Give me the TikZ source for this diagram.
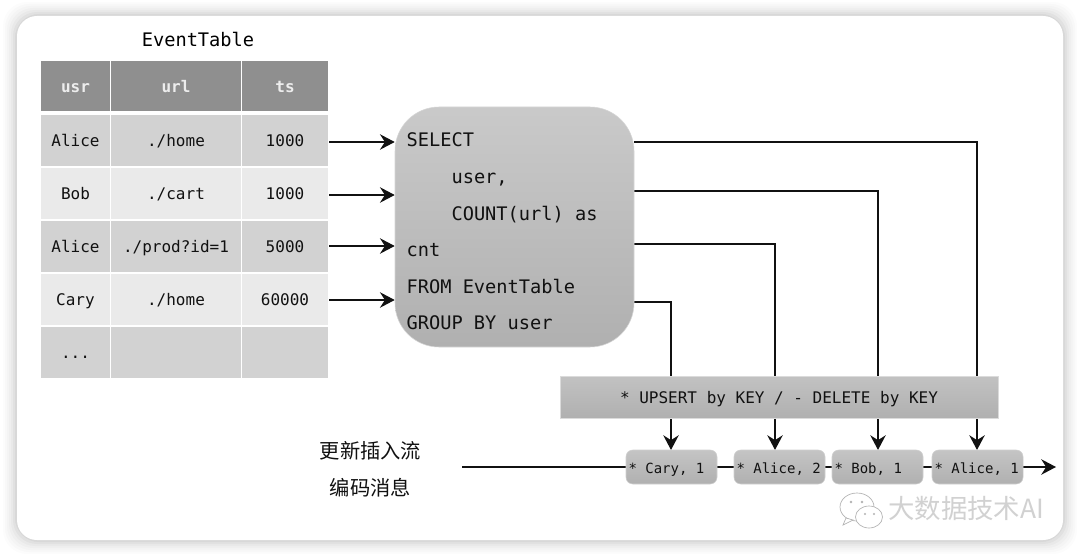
\documentclass[tikz,border=0pt]{standalone}
\usepackage{fontspec}
\setmonofont{DejaVu Sans Mono}
\newfontfamily\cjk{Noto Sans CJK SC}
\usetikzlibrary{arrows.meta,positioning}
\pgfdeclarelayer{cardlayer}
\pgfdeclarelayer{connlayer}
\pgfsetlayers{cardlayer,connlayer,main}
\definecolor{hdr}{HTML}{8F8F8F}
\definecolor{rowa}{HTML}{D2D2D2}
\definecolor{rowb}{HTML}{EAEAEA}
\definecolor{ink}{HTML}{111111}
\newcommand{\fsz}[1]{\fontsize{#1}{#1}\selectfont}
\newcommand{\tup}[1]{\makebox[64.5pt][l]{#1}}
\tikzset{
  x=0.75pt,y=-0.75pt,
  cell/.style={inner sep=0pt,minimum height=51.5*0.75pt,font=\ttfamily\fsz{12},text=ink,text height=9.6pt,text depth=0.5pt},
  cola/.style={minimum width=69*0.75pt},
  colb/.style={minimum width=130*0.75pt},
  colc/.style={minimum width=86*0.75pt},
  head/.style={cell,fill=hdr,text=white!93!black,font=\ttfamily\bfseries\fsz{12},minimum height=50*0.75pt,text height=10.5pt,text depth=0.5pt},
  odd/.style={cell,fill=rowa},
  even/.style={cell,fill=rowb},
  tuple/.style={inner sep=0pt,minimum width=91*0.75pt,minimum height=34*0.75pt,rounded corners=5pt,
    top color=black!23,bottom color=black!31,draw=black!18,line width=.4pt,font=\ttfamily\fsz{10.5},text=ink,
    text height=9.5pt,text depth=0.5pt},
  flow/.style={draw=ink,line width=1.7pt},
  flowto/.style={flow,-{Stealth[length=11pt,width=11.5pt,inset=3.6pt]}},
  cnlabel/.style={font=\cjk\fsz{15.2},text=ink,inner sep=0pt},
  bubble/.style={draw=black!30,fill=white,line width=.5pt}
}
\begin{document}
\begin{tikzpicture}
\useasboundingbox (0,0) rectangle (1080,556);
\begin{pgfonlayer}{cardlayer}
  \fill[white] (0,0) rectangle (1080,556);
  \foreach \d/\o in {14/.012,12/.014,10/.016,8/.02,6/.025,4/.03,2/.04}
    \fill[black,opacity=\o,rounded corners=18pt] (17-\d,16-\d) rectangle (1063+\d,540+\d);
  \fill[white,rounded corners=15pt] (17,16) rectangle (1063,540);
\end{pgfonlayer}

\node[inner sep=0pt,font=\ttfamily\fsz{14}] (title) at (198,39) {EventTable};

% table
\node[head,cola] (h1) at (75.5,86) {usr};
\node[head,colb] (h2) at (176,86) {url};
\node[head,colc] (h3) at (285,86) {ts};
\node[odd,cola] (a1) at (75.5,140.5) {Alice};
\node[odd,colb] (a2) at (176,140.5) {./home};
\node[odd,colc] (a3) at (285,140.5) {1000};
\node[even,cola] (b1) at (75.5,193.5) {Bob};
\node[even,colb] (b2) at (176,193.5) {./cart};
\node[even,colc] (b3) at (285,193.5) {1000};
\node[odd,cola] (c1) at (75.5,246.5) {Alice};
\node[odd,colb] (c2) at (176,246.5) {./prod?id=1};
\node[odd,colc] (c3) at (285,246.5) {5000};
\node[even,cola] (d1) at (75.5,299.5) {Cary};
\node[even,colb] (d2) at (176,299.5) {./home};
\node[even,colc] (d3) at (285,299.5) {60000};
\node[odd,cola] (e1) at (75.5,352.5) {...};
\node[odd,colb] (e2) at (176,352.5) {};
\node[odd,colc] (e3) at (285,352.5) {};

% query
\node[inner sep=0pt,minimum width=239*0.75pt,minimum height=240*0.75pt,rounded corners=33pt,
  top color=black!21,bottom color=black!31,draw=black!16,line width=.4pt] (sql) at (514.5,227) {};
\node[inner sep=0pt,anchor=west,align=left,font=\ttfamily\fontsize{14}{27.4}\selectfont,text=ink] (sqltext) at (406.3,231.5)
  {SELECT\\\phantom{....}user,\\\phantom{....}COUNT(url) as\\cnt\\FROM EventTable\\GROUP BY user};

% change-type bar
\node[inner sep=0pt,minimum width=438*0.75pt,minimum height=42*0.75pt,
  top color=black!24,bottom color=black!31,draw=black!14,line width=.3pt,
  font=\ttfamily\fsz{12},text=ink,text height=9.7pt,text depth=0.2pt] (bar) at (779,397) {* UPSERT by KEY / - DELETE by KEY};

% change-log tuples
\node[tuple] (t4) at (671.5,467) {\tup{* Cary, 1}};
\node[tuple] (t3) at (779.5,467) {\tup{* Alice, 2}};
\node[tuple] (t2) at (877.5,467) {\tup{* Bob, 1}};
\node[tuple] (t1) at (977.5,467) {\tup{* Alice, 1}};

\node[cnlabel] (lab1) at (370.5,451) {更新插入流};
\node[cnlabel] (lab2) at (370.5,488) {编码消息};

% connector end points
\coordinate (i1) at (329,142);
\coordinate (i2) at (329,195);
\coordinate (i3) at (329,246);
\coordinate (i4) at (329,300);
\coordinate (o1) at (634,142);
\coordinate (o2) at (634,191);
\coordinate (o3) at (634,244);
\coordinate (o4) at (634,302);
\coordinate (k1) at (977,450);
\coordinate (k2) at (878,450);
\coordinate (k3) at (775,450);
\coordinate (k4) at (671,450);
\coordinate (start) at (462,467);
\coordinate (end) at (1056,467);

\begin{pgfonlayer}{connlayer}
  \foreach \n in {1,2,3,4}
    \draw[flowto] (i\n) -- (i\n -| sql.west);
  \foreach \n in {1,2,3,4}
    \draw[flowto] (o\n) -| (k\n);
  \draw[flow] (start) -- (t4.west);
  \draw[flow] (t4.east) -- (t3.west);
  \draw[flow] (t3.east) -- (t2.west);
  \draw[flow] (t2.east) -- (t1.west);
  \draw[flowto] (t1.east) -- (end);
\end{pgfonlayer}

% watermark
\draw[bubble] (857,507) ellipse (17 and 14);
\fill[white,draw=black!30,line width=.5pt] (846,518) -- (843,525) -- (853,520) -- cycle;
\draw[bubble] (869,517) ellipse (13.5 and 11);
\fill[black!30] (851,502) circle (1.3) (862,502) circle (1.3) (865,514) circle (1.1) (874,514) circle (1.1);
\node[inner sep=0pt,anchor=west,font=\cjk\fsz{19.8},text=black!18] (mark) at (888,508) {大数据技术AI};
\end{tikzpicture}
\end{document}
